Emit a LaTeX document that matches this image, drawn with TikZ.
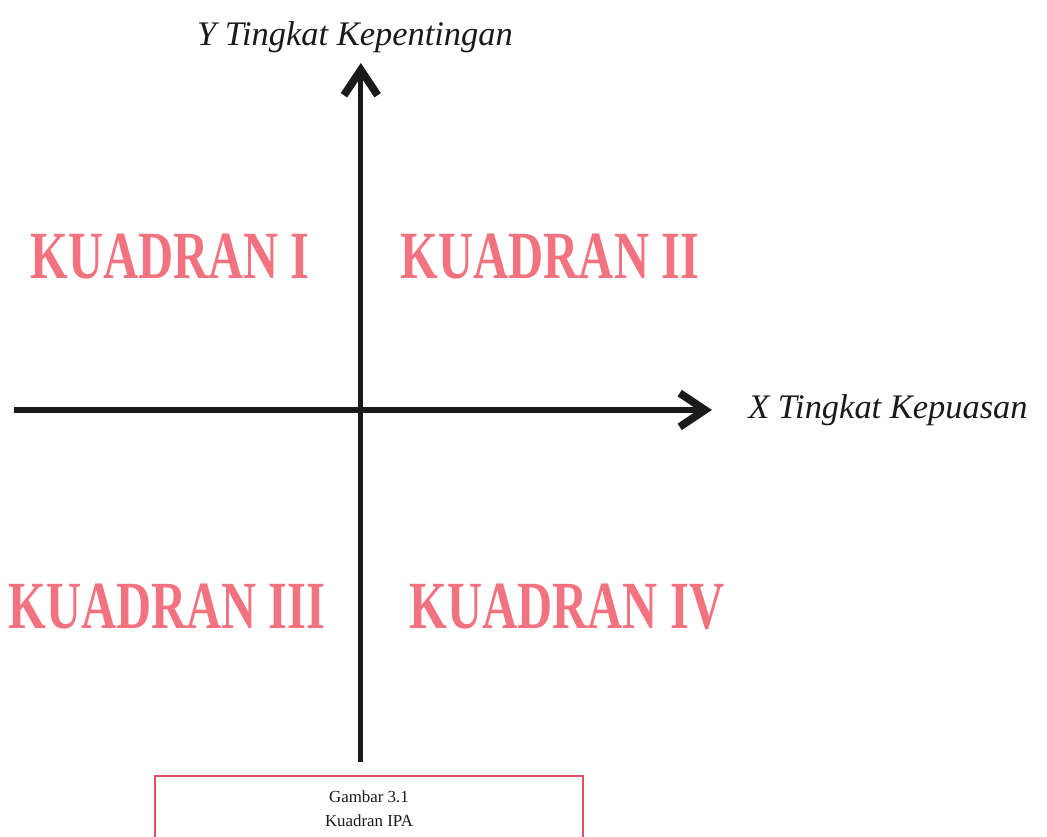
\documentclass[tikz,border=0pt]{standalone}
\usepackage{fontspec}
\usepackage{tikz}
\usetikzlibrary{arrows.meta, positioning, calc}
\setmainfont{Liberation Serif}
\newfontfamily\quadfont[FakeStretch=0.72]{Liberation Serif Bold}
\definecolor{pinkQ}{HTML}{F2737F}
\definecolor{redBox}{HTML}{E0525E}
\definecolor{ink}{HTML}{1A1A1A}

\begin{document}
\begin{tikzpicture}[
  text=ink,
  axis/.style ={draw=ink, line width=3.6pt, -{Straight Barb[length=18pt,width=24pt,line width=5.5pt]}},
  quad/.style ={font=\quadfont\fontsize{48}{50}\selectfont, text=pinkQ, inner sep=0pt},
  lab/.style  ={font=\itshape\fontsize{24.5}{26}\selectfont, inner sep=0pt},
  captxt/.style ={font=\fontsize{12}{17}\selectfont, align=center, inner sep=0pt}
]
\useasboundingbox (0,0) rectangle (26.175,20.925);
\clip (0,0) rectangle (26.175,20.925);

% axes
\coordinate (yb) at (9.02,1.875);
\coordinate (yt) at (9.02,19.35);
\coordinate (xl) at (0.35,10.675);
\coordinate (xr) at (17.8,10.675);
\draw[axis] (yb) -- (yt);
\draw[axis] (xl) -- (xr);

\node[lab] (ylab) at (8.875,20.0) {Y Tingkat Kepentingan};
\node[lab, anchor=west] (xlab) at (18.7,10.675) {X Tingkat Kepuasan};

% the four quadrants
\node[quad] (q1) at (4.25,14.5)  {KUADRAN I};
\node[quad] (q2) at (13.75,14.5) {KUADRAN II};
\node[quad] (q3) at (4.175,5.75) {KUADRAN III};
\node[quad] (q4) at (14.175,5.75) {KUADRAN IV};

% caption box
\draw[redBox, line width=1pt] (3.875,-1) rectangle (14.575,1.525);
\node[captxt] (capt) at (9.225,0.7) {Gambar 3.1\\Kuadran IPA};
\end{tikzpicture}
\end{document}
